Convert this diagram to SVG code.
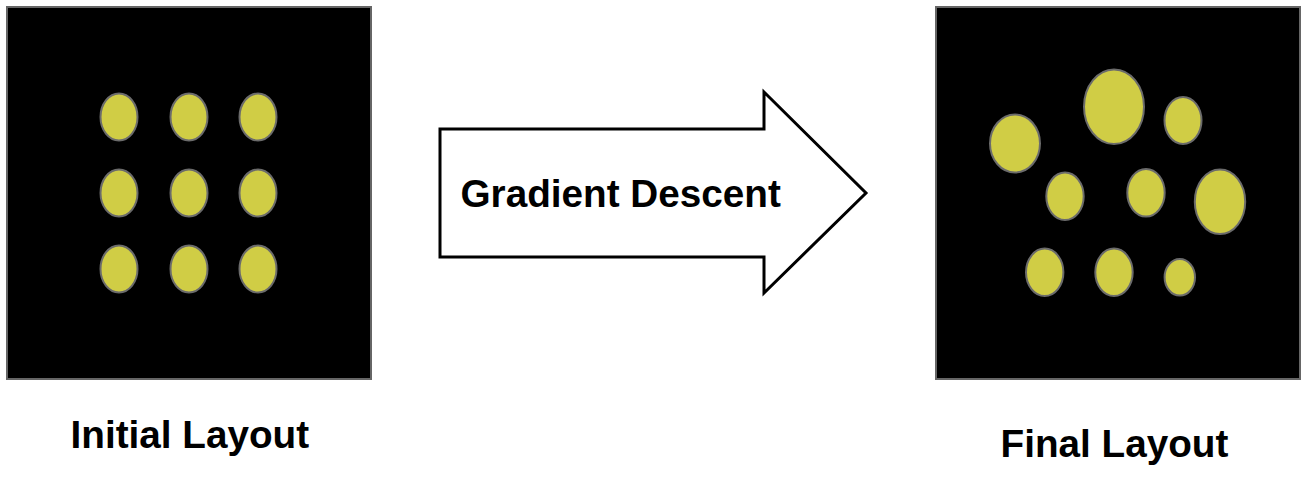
<svg xmlns="http://www.w3.org/2000/svg" width="1308" height="480" viewBox="0 0 1308 480">
<style>
.panel{fill:#000;stroke:#666;stroke-width:2}
.dot{fill:#d0cd45;stroke:#6b6b6b;stroke-width:2}
.arrow{fill:#fff;stroke:#000;stroke-width:3;stroke-linejoin:miter}
.lbl{font-family:"Liberation Sans",Arial,sans-serif;font-weight:bold;font-size:38.7px;fill:#000}
</style>
<rect width="1308" height="480" fill="#fff"/>
<g id="initial-layout">
<rect class="panel" x="7" y="7" width="364" height="372"/>
<ellipse class="dot" cx="119" cy="117" rx="18.5" ry="23.5"/>
<ellipse class="dot" cx="189" cy="117" rx="18.5" ry="23.5"/>
<ellipse class="dot" cx="258" cy="117" rx="18.5" ry="23.5"/>
<ellipse class="dot" cx="119" cy="193" rx="18.5" ry="23.5"/>
<ellipse class="dot" cx="189" cy="193" rx="18.5" ry="23.5"/>
<ellipse class="dot" cx="258" cy="193" rx="18.5" ry="23.5"/>
<ellipse class="dot" cx="119" cy="269" rx="18.5" ry="23.5"/>
<ellipse class="dot" cx="189" cy="269" rx="18.5" ry="23.5"/>
<ellipse class="dot" cx="258" cy="269" rx="18.5" ry="23.5"/>
<text class="lbl" x="70.5" y="448">Initial Layout</text>
</g>
<g id="connectors">
<g id="gradient-descent">
<path class="arrow" d="M440,129 L764,129 L764,92 L866,193 L764,293 L764,257 L440,257 Z"/>
<text class="lbl" x="460.5" y="207">Gradient Descent</text>
</g>
</g>
<g id="final-layout">
<rect class="panel" x="936" y="7" width="364" height="372"/>
<ellipse class="dot" cx="1015" cy="143.5" rx="25" ry="29"/>
<ellipse class="dot" cx="1114" cy="106.7" rx="30" ry="37.3"/>
<ellipse class="dot" cx="1183" cy="120.5" rx="18.5" ry="23.5"/>
<ellipse class="dot" cx="1065" cy="196.3" rx="18.7" ry="23.7"/>
<ellipse class="dot" cx="1146" cy="192.8" rx="18.7" ry="23.8"/>
<ellipse class="dot" cx="1220" cy="201.7" rx="25.2" ry="32.3"/>
<ellipse class="dot" cx="1044.7" cy="272.3" rx="18.7" ry="23.7"/>
<ellipse class="dot" cx="1114" cy="272.3" rx="18.7" ry="23.7"/>
<ellipse class="dot" cx="1179.8" cy="277.3" rx="15.2" ry="18.3"/>
<text class="lbl" x="1000.5" y="457">Final Layout</text>
</g>
</svg>
